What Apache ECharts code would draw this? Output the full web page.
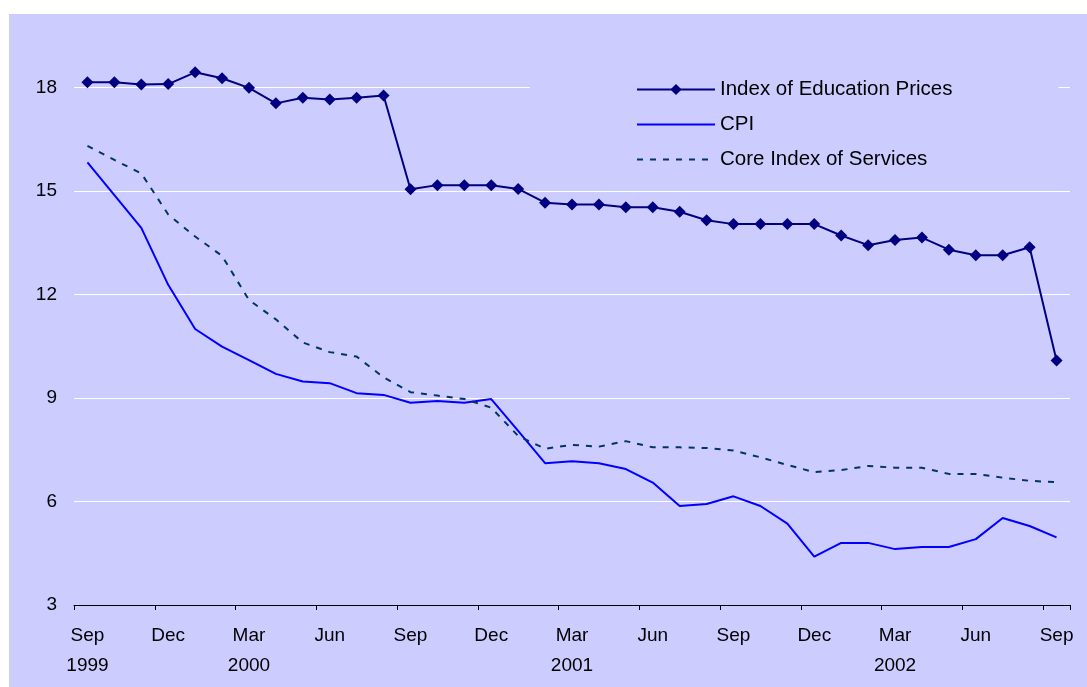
<!DOCTYPE html>
<html>
<head>
<meta charset="utf-8">
<title>Education prices vs CPI</title>
<script src="https://cdn.jsdelivr.net/npm/echarts@6/dist/echarts.min.js"></script>
<style>
  html, body { margin: 0; padding: 0; background: #ffffff; }
  #chart { width: 1087px; height: 687px; }
</style>
</head>
<body>
<div id="chart"></div>
<script>
// monthly, Sep 1999 .. Sep 2002
const categories = [
  'Sep 1999', 'Oct 1999', 'Nov 1999', 'Dec 1999',
  'Jan 2000', 'Feb 2000', 'Mar 2000', 'Apr 2000', 'May 2000', 'Jun 2000',
  'Jul 2000', 'Aug 2000', 'Sep 2000', 'Oct 2000', 'Nov 2000', 'Dec 2000',
  'Jan 2001', 'Feb 2001', 'Mar 2001', 'Apr 2001', 'May 2001', 'Jun 2001',
  'Jul 2001', 'Aug 2001', 'Sep 2001', 'Oct 2001', 'Nov 2001', 'Dec 2001',
  'Jan 2002', 'Feb 2002', 'Mar 2002', 'Apr 2002', 'May 2002', 'Jun 2002',
  'Jul 2002', 'Aug 2002', 'Sep 2002'
]

const educationPrices = [
  18.15, 18.15, 18.09, 18.10, 18.44, 18.27, 17.99, 17.54, 17.70, 17.65,
  17.70, 17.77, 15.05, 15.17, 15.17, 15.17, 15.06, 14.66, 14.61, 14.61,
  14.53, 14.53, 14.40, 14.15, 14.04, 14.04, 14.04, 14.04, 13.71, 13.43,
  13.58, 13.65, 13.30, 13.14, 13.14, 13.37, 10.09
]

const cpi = [
  15.83, 14.88, 13.93, 12.28, 11.00, 10.49, 10.10, 9.70, 9.48, 9.43,
  9.14, 9.09, 8.86, 8.91, 8.86, 8.97, 8.05, 7.11, 7.17, 7.11,
  6.94, 6.55, 5.87, 5.93, 6.15, 5.87, 5.36, 4.40, 4.80, 4.80,
  4.62, 4.68, 4.68, 4.91, 5.52, 5.29, 4.96
]

const coreServices = [
  16.31, 15.90, 15.51, 14.32, 13.68, 13.12, 11.84, 11.28, 10.61, 10.33,
  10.20, 9.60, 9.17, 9.07, 8.97, 8.72, 7.90, 7.53, 7.64, 7.59,
  7.75, 7.57, 7.57, 7.55, 7.48, 7.28, 7.06, 6.85, 6.91, 7.03,
  6.98, 6.98, 6.80, 6.80, 6.69, 6.60, 6.56
]

const font = 'Liberation Sans, Arial, sans-serif'

const chart = echarts.init(document.getElementById('chart'), null, { renderer: 'canvas' })
chart.setOption({
  animation: false,
  backgroundColor: '#ffffff',
  textStyle: { fontFamily: font },
  graphic: [{
    type: 'rect',
    z: -10,
    silent: true,
    shape: { x: 9, y: 14, width: 1078, height: 673 },
    style: { fill: '#ccccff' }
  }],
  grid: {
    left: 74,
    right: 17,
    top: 18.5,
    bottom: 82
  },
  legend: {
    orient: 'vertical',
    left: 530,
    top: 60,
    padding: [19, 106, 21, 106],
    backgroundColor: '#ccccff',
    itemWidth: 78,
    itemHeight: 14,
    itemGap: 14,
    textStyle: { fontSize: 20.5, color: '#000000', fontFamily: font },
    data: [
      { name: 'Index of Education Prices' },
      // line-only series: hide the marker that the legend puts on them
      { name: 'CPI', itemStyle: { opacity: 0 } },
      { name: 'Core Index of Services', itemStyle: { opacity: 0 } }
    ]
  },
  xAxis: {
    type: 'category',
    boundaryGap: true,
    data: categories,
    axisLine: { lineStyle: { color: '#000000', width: 1 } },
    axisTick: {
      show: true,
      interval: 2,
      length: 5,
      lineStyle: { color: '#000000', width: 1 }
    },
    axisLabel: {
      interval: 2,
      margin: 16,
      fontSize: 19,
      lineHeight: 30,
      color: '#000000',
      fontFamily: font,
      formatter: function (val, idx) {
        const parts = val.split(' ')
        // year only under the first month and under each March
        if (idx === 0 || parts[0] === 'Mar') {
          return parts[0] + '\n' + parts[1]
        }
        return parts[0]
      }
    },
    splitLine: { show: false }
  },
  yAxis: {
    type: 'value',
    min: 3,
    max: 20,
    interval: 3,
    axisLine: { show: false },
    axisTick: { show: false },
    axisLabel: {
      margin: 17,
      fontSize: 19,
      color: '#000000',
      fontFamily: font,
      showMaxLabel: false
    },
    splitLine: {
      showMaxLine: false,
      lineStyle: { color: '#ffffff', width: 1 }
    }
  },
  series: [
    {
      name: 'Index of Education Prices',
      type: 'line',
      data: educationPrices,
      symbol: 'diamond',
      symbolSize: 12,
      itemStyle: { color: '#000080' },
      lineStyle: { color: '#000080', width: 2 },
      z: 5
    },
    {
      name: 'CPI',
      type: 'line',
      data: cpi,
      symbol: 'none',
      itemStyle: { color: '#0000ff' },
      lineStyle: { color: '#0000ff', width: 2 }
    },
    {
      name: 'Core Index of Services',
      type: 'line',
      data: coreServices,
      symbol: 'none',
      itemStyle: { color: '#003366' },
      lineStyle: { color: '#003366', width: 2, type: [6, 7] }
    }
  ]
})
</script>
</body>
</html>
